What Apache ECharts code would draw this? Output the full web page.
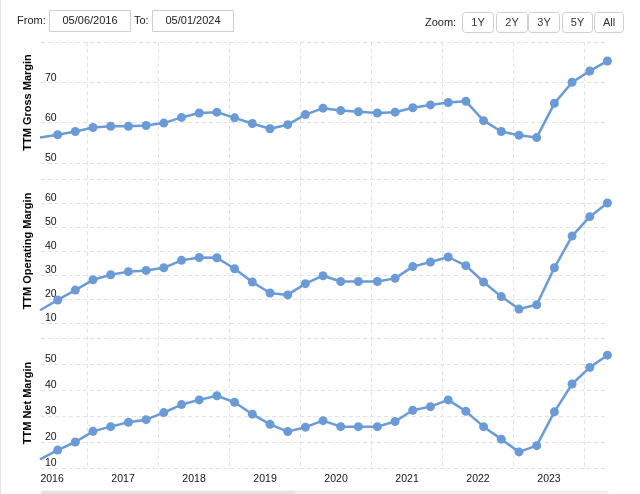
<!DOCTYPE html>
<html><head><meta charset="utf-8">
<script src="https://cdn.jsdelivr.net/npm/echarts@6/dist/echarts.min.js"></script>
<style>html,body{margin:0;padding:0;background:#fff}#c{width:640px;height:494px}</style>
</head><body><div id="c"></div>
<script>
// Quarter-end dates (first one lies just before the visible range)
const quarterEnds = ['2016-05-01','2016-07-31','2016-10-30','2017-01-29','2017-04-30','2017-07-30','2017-10-29','2018-01-28','2018-04-29','2018-07-29','2018-10-28','2019-01-27','2019-04-28','2019-07-28','2019-10-27','2020-01-26','2020-04-26','2020-07-26','2020-10-25','2021-01-31','2021-05-02','2021-08-01','2021-10-31','2022-01-30','2022-05-01','2022-07-31','2022-10-30','2023-01-29','2023-04-30','2023-07-30','2023-10-29','2024-01-28','2024-04-28'];
const grossMargin = [56.3, 57.0, 57.8, 58.8, 59.1, 59.1, 59.3, 59.9, 61.3, 62.4, 62.6, 61.2, 59.8, 58.5, 59.5, 62.0, 63.6, 63.0, 62.7, 62.4, 62.6, 63.7, 64.4, 65.0, 65.3, 60.5, 57.8, 56.9, 56.3, 64.8, 70.0, 72.8, 75.3];
const operatingMargin = [15.3, 19.6, 23.7, 28.0, 30.1, 31.4, 31.9, 33.0, 36.1, 37.3, 37.2, 32.6, 27.1, 22.5, 21.7, 26.4, 29.7, 27.3, 27.3, 27.3, 28.6, 33.5, 35.4, 37.5, 33.9, 27.1, 21.0, 15.8, 17.6, 33.0, 46.2, 54.3, 60.0];
const netMargin = [13.3, 16.9, 20.0, 24.1, 25.9, 27.6, 28.6, 31.3, 34.4, 36.2, 37.8, 35.3, 30.7, 26.8, 24.0, 25.7, 28.2, 25.9, 25.9, 25.9, 27.9, 32.2, 33.6, 36.2, 31.8, 25.9, 21.1, 16.2, 18.6, 31.6, 42.3, 48.7, 53.4];
const yearLabels = ['2016','2017','2018','2019','2020','2021','2022','2023'];
const rangeFrom = '2016-05-06';
const rangeTo = '2024-05-01';
const panelTitles = ['TTM Gross Margin', 'TTM Operating Margin', 'TTM Net Margin'];

// convert an ISO date to a fractional year (time position on the axis)
function toYear(s) {
  const y = parseInt(s.slice(0, 4), 10);
  const t = Date.UTC(y, parseInt(s.slice(5, 7), 10) - 1, parseInt(s.slice(8, 10), 10));
  const a = Date.UTC(y, 0, 1), b = Date.UTC(y + 1, 0, 1);
  return y + (t - a) / (b - a);
}
const labelPos = yearLabels.map(y => parseInt(y, 10) + 0.5);
const gridPos = yearLabels.map(y => parseInt(y, 10) + 1);
const xMin = toYear(rangeFrom), xMax = toYear(rangeTo);

const LINE = '#6a9bd6';
const GRID = '#e3e3e3';
const FONT = 'Arial, "Liberation Sans", sans-serif';

function pairs(vals) { return quarterEnds.map((d, i) => [toYear(d), vals[i]]); }

const grids = [
  { left: 41, right: 32, top: 42, bottom: 26 },
  { left: 41, right: 32, top: 42, height: 121 },
  { left: 41, right: 32, top: 179, height: 144 },
  { left: 41, right: 32, top: 338, height: 130 }
];

const xAxes = [
  {
    type: 'value', gridIndex: 0, min: xMin, max: xMax,
    axisLine: { show: false },
    axisTick: { show: false, customValues: gridPos },
    splitLine: { show: true, lineStyle: { color: GRID, type: [4, 3], width: 1 } },
    axisLabel: {
      customValues: labelPos,
      formatter: v => String(Math.floor(v)),
      color: '#111', fontSize: 10.5, fontFamily: FONT, margin: 6
    }
  },
  { type: 'value', gridIndex: 1, min: xMin, max: xMax, show: false },
  { type: 'value', gridIndex: 2, min: xMin, max: xMax, show: false },
  { type: 'value', gridIndex: 3, min: xMin, max: xMax, show: false }
];

function panelY(idx, min, max, title) {
  return {
    type: 'value', gridIndex: idx, min: min, max: max, interval: 10, position: 'left',
    name: title, nameLocation: 'middle', nameRotate: 90, nameGap: 6,
    nameTextStyle: { fontFamily: FONT, fontWeight: 'bold', fontSize: 11, color: '#000' },
    axisLine: { show: false }, axisTick: { show: false },
    axisLabel: { inside: true, margin: 4, showMaxLabel: false, verticalAlign: 'bottom', lineHeight: 9,
      fontFamily: FONT, fontSize: 10.5, color: '#111' },
    splitLine: { show: true, lineStyle: { color: GRID, type: [4, 3], width: 1 } }
  };
}

const yAxes = [
  { type: 'value', gridIndex: 0, min: 0, max: 1, show: false },
  panelY(1, 50, 80, panelTitles[0]),
  panelY(2, 10, 70, panelTitles[1]),
  panelY(3, 10, 60, panelTitles[2])
];

function lineSeries(idx, vals, name) {
  return {
    type: 'line', name: name, xAxisIndex: idx, yAxisIndex: idx, data: pairs(vals),
    symbol: 'circle', symbolSize: 9, showAllSymbol: true, clip: true,
    lineStyle: { color: LINE, width: 2.5 }, itemStyle: { color: LINE },
    emphasis: { disabled: true }
  };
}

function btn(x, w, label) {
  return [
    { type: 'rect', shape: { x: x + 0.5, y: 12.5, width: w, height: 20, r: 3 },
      style: { fill: '#fff', stroke: '#cfcfcf', lineWidth: 1 } },
    { type: 'text', x: x + w / 2 + 0.5, y: 22.5,
      style: { text: label, fill: '#333', font: '11px ' + FONT, align: 'center', verticalAlign: 'middle' } }
  ];
}
function usDate(s) { return s.slice(5, 7) + '/' + s.slice(8, 10) + '/' + s.slice(0, 4); }

const graphics = [
  { type: 'line', shape: { x1: 0.5, y1: 0, x2: 0.5, y2: 494 }, style: { stroke: '#e2e2e2', lineWidth: 1 } },
  { type: 'text', x: 17, y: 21, style: { text: 'From:', fill: '#222', font: '11px ' + FONT, verticalAlign: 'middle' } },
  { type: 'rect', shape: { x: 49.5, y: 10.5, width: 81, height: 21 }, style: { fill: '#fff', stroke: '#cfcfcf', lineWidth: 1 } },
  { type: 'text', x: 90, y: 21, style: { text: usDate(rangeFrom), fill: '#222', font: '11px ' + FONT, align: 'center', verticalAlign: 'middle' } },
  { type: 'text', x: 134, y: 21, style: { text: 'To:', fill: '#222', font: '11px ' + FONT, verticalAlign: 'middle' } },
  { type: 'rect', shape: { x: 152.5, y: 10.5, width: 81, height: 21 }, style: { fill: '#fff', stroke: '#cfcfcf', lineWidth: 1 } },
  { type: 'text', x: 193, y: 21, style: { text: usDate(rangeTo), fill: '#222', font: '11px ' + FONT, align: 'center', verticalAlign: 'middle' } },
  { type: 'text', x: 425, y: 22.5, style: { text: 'Zoom:', fill: '#222', font: '11px ' + FONT, verticalAlign: 'middle' } }
]
.concat(btn(462, 31, '1Y'), btn(496, 31, '2Y'), btn(528, 31, '3Y'), btn(562, 30, '5Y'), btn(594, 29, 'All'))
.concat([
  { type: 'rect', shape: { x: 41, y: 491, width: 567, height: 3 }, style: { fill: '#f2f2f2', stroke: '#e0e0e0', lineWidth: 0.5 } },
  { type: 'rect', shape: { x: 41, y: 491, width: 254, height: 3 }, style: { fill: '#e2e2e2' } }
]);

const chart = echarts.init(document.getElementById('c'), null, { renderer: 'canvas' });
chart.setOption({
  animation: false,
  backgroundColor: '#fff',
  grid: grids,
  xAxis: xAxes,
  yAxis: yAxes,
  series: [
    lineSeries(1, grossMargin, panelTitles[0]),
    lineSeries(2, operatingMargin, panelTitles[1]),
    lineSeries(3, netMargin, panelTitles[2])
  ],
  graphic: graphics
});
</script>
</body></html>
